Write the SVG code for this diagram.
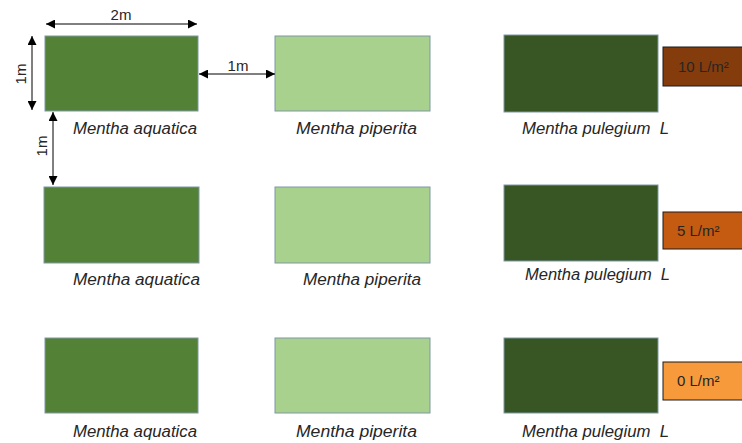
<svg xmlns="http://www.w3.org/2000/svg" width="742" height="443" viewBox="0 0 742 443">
<defs>
<marker id="ah" viewBox="0 0 10 10" refX="10" refY="5" markerWidth="9" markerHeight="9" markerUnits="userSpaceOnUse" orient="auto-start-reverse"><path d="M0,0 L10,5 L0,10 Z" fill="#000"/></marker>
<style>
.aq{fill:#538135;stroke:#7e97a6;stroke-width:1}
.pi{fill:#a9d18e;stroke:#7e97a6;stroke-width:1}
.pu{fill:#375623;stroke:#7e97a6;stroke-width:1}
.lbl{font-family:"Liberation Sans",Arial,sans-serif;font-style:italic;font-size:16px;fill:#262626}
.dim{font-family:"Liberation Sans",Arial,sans-serif;font-size:15px;fill:#262626}
.box{stroke:#1a1a1a;stroke-width:1}
.bt{font-family:"Liberation Sans",Arial,sans-serif;font-size:15px;fill:#262626}
.ar{stroke:#000;stroke-width:1;fill:none;marker-start:url(#ah);marker-end:url(#ah)}
</style>
</defs>
<rect width="742" height="443" fill="#fff"/>
<g id="row1">
<g id="aq1"><rect class="aq" x="45" y="36" width="153" height="75"/><text class="lbl" x="73" y="134" textLength="124" lengthAdjust="spacingAndGlyphs">Mentha aquatica</text></g>
<g id="pi1"><rect class="pi" x="275" y="36" width="155" height="75"/><text class="lbl" x="296" y="134" textLength="121" lengthAdjust="spacingAndGlyphs">Mentha piperita</text></g>
<g id="pu1"><rect class="pu" x="504" y="35" width="154" height="77"/><text class="lbl" x="522" y="134" textLength="147" lengthAdjust="spacingAndGlyphs">Mentha pulegium&#160; L</text></g>
<g id="w10"><rect class="box" x="663" y="47" width="80" height="39" fill="#843c0c"/><text class="bt" x="678" y="72">10 L/m²</text></g>
</g>
<g id="row2">
<g id="aq2"><rect class="aq" x="44" y="187" width="155" height="76"/><text class="lbl" x="73" y="285" textLength="127" lengthAdjust="spacingAndGlyphs">Mentha aquatica</text></g>
<g id="pi2"><rect class="pi" x="275" y="187" width="155" height="76"/><text class="lbl" x="303" y="285" textLength="118" lengthAdjust="spacingAndGlyphs">Mentha piperita</text></g>
<g id="pu2"><rect class="pu" x="504" y="185" width="154" height="76"/><text class="lbl" x="525" y="280" textLength="145" lengthAdjust="spacingAndGlyphs">Mentha pulegium&#160; L</text></g>
<g id="w5"><rect class="box" x="663" y="212" width="80" height="37" fill="#c55a11"/><text class="bt" x="677" y="236">5 L/m²</text></g>
</g>
<g id="row3">
<g id="aq3"><rect class="aq" x="45" y="338" width="153" height="75"/><text class="lbl" x="73" y="437" textLength="124" lengthAdjust="spacingAndGlyphs">Mentha aquatica</text></g>
<g id="pi3"><rect class="pi" x="275" y="338" width="155" height="75"/><text class="lbl" x="296" y="437" textLength="121" lengthAdjust="spacingAndGlyphs">Mentha piperita</text></g>
<g id="pu3"><rect class="pu" x="504" y="338" width="154" height="75"/><text class="lbl" x="522" y="437" textLength="147" lengthAdjust="spacingAndGlyphs">Mentha pulegium&#160; L</text></g>
<g id="w0"><rect class="box" x="663" y="362" width="80" height="38" fill="#f79a3c"/><text class="bt" x="677" y="386">0 L/m²</text></g>
</g>
<g id="connectors">
<line class="ar" x1="46" y1="24" x2="197" y2="24"/>
<text class="dim" x="121" y="20" text-anchor="middle">2m</text>
<line class="ar" x1="32" y1="36" x2="32" y2="110"/>
<text class="dim" transform="translate(26,74) rotate(-90)" text-anchor="middle">1m</text>
<line class="ar" x1="199" y1="74" x2="275" y2="74"/>
<text class="dim" x="238" y="71" text-anchor="middle">1m</text>
<line class="ar" x1="53" y1="112" x2="53" y2="185"/>
<text class="dim" transform="translate(47,146) rotate(-90)" text-anchor="middle">1m</text>
</g>
</svg>
